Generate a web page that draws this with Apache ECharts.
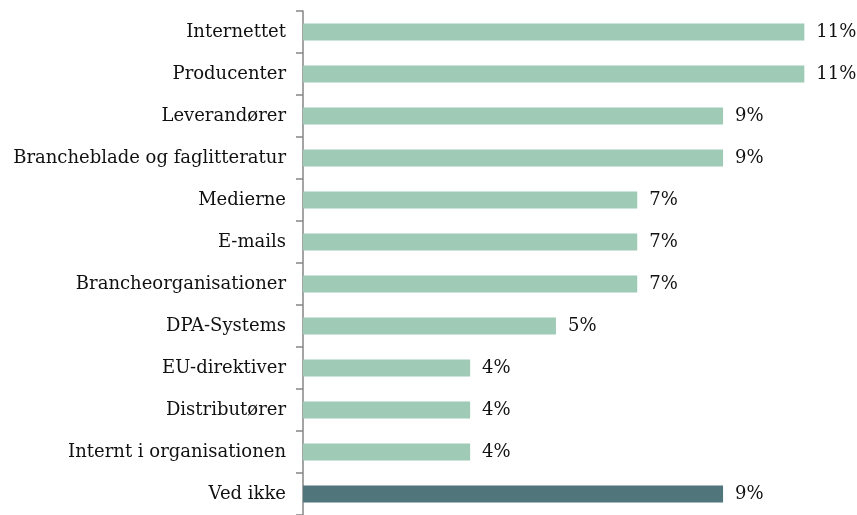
<!DOCTYPE html>
<html>
<head>
<meta charset="utf-8">
<script src="https://cdn.jsdelivr.net/npm/echarts@6/dist/echarts.min.js"></script>
<style>
  html, body { margin: 0; padding: 0; background: #fff; }
  #chart { width: 857px; height: 515px; }
</style>
</head>
<body>
<div id="chart"></div>
<script>
const categories = ['Internettet', 'Producenter', 'Leverandører', 'Brancheblade og faglitteratur',
  'Medierne', 'E-mails', 'Brancheorganisationer', 'DPA-Systems', 'EU-direktiver',
  'Distributører', 'Internt i organisationen', 'Ved ikke'];
const values = [11.1, 11.1, 9.3, 9.3, 7.4, 7.4, 7.4, 5.6, 3.7, 3.7, 3.7, 9.3];
const valueLabels = ['11%', '11%', '9%', '9%', '7%', '7%', '7%', '5%', '4%', '4%', '4%', '9%'];

const lightColor = '#9ecab6';
const darkColor = '#50757b';
const font = 'DejaVu Serif';

const chart = echarts.init(document.getElementById('chart'));

chart.setOption({
  animation: false,
  grid: { left: 303, top: 11, bottom: -4, width: 542 },
  xAxis: {
    type: 'value',
    min: 0,
    max: 12,
    show: false
  },
  yAxis: {
    type: 'category',
    inverse: true,
    data: categories,
    axisLine: { show: true, lineStyle: { color: '#868686', width: 1.5 } },
    axisTick: { show: true, length: 7, lineStyle: { color: '#868686', width: 1.5 } },
    axisLabel: { margin: 17, color: '#111', fontFamily: font, fontSize: 18 },
    splitLine: { show: false }
  },
  series: [{
    type: 'bar',
    barWidth: 17,
    data: values.map(function (v, i) {
      return {
        value: v,
        itemStyle: { color: i === values.length - 1 ? darkColor : lightColor }
      };
    }),
    label: {
      show: true,
      position: 'right',
      distance: 12,
      color: '#111',
      fontFamily: font,
      fontSize: 18,
      formatter: function (p) { return valueLabels[p.dataIndex]; }
    }
  }]
});
</script>
</body>
</html>
